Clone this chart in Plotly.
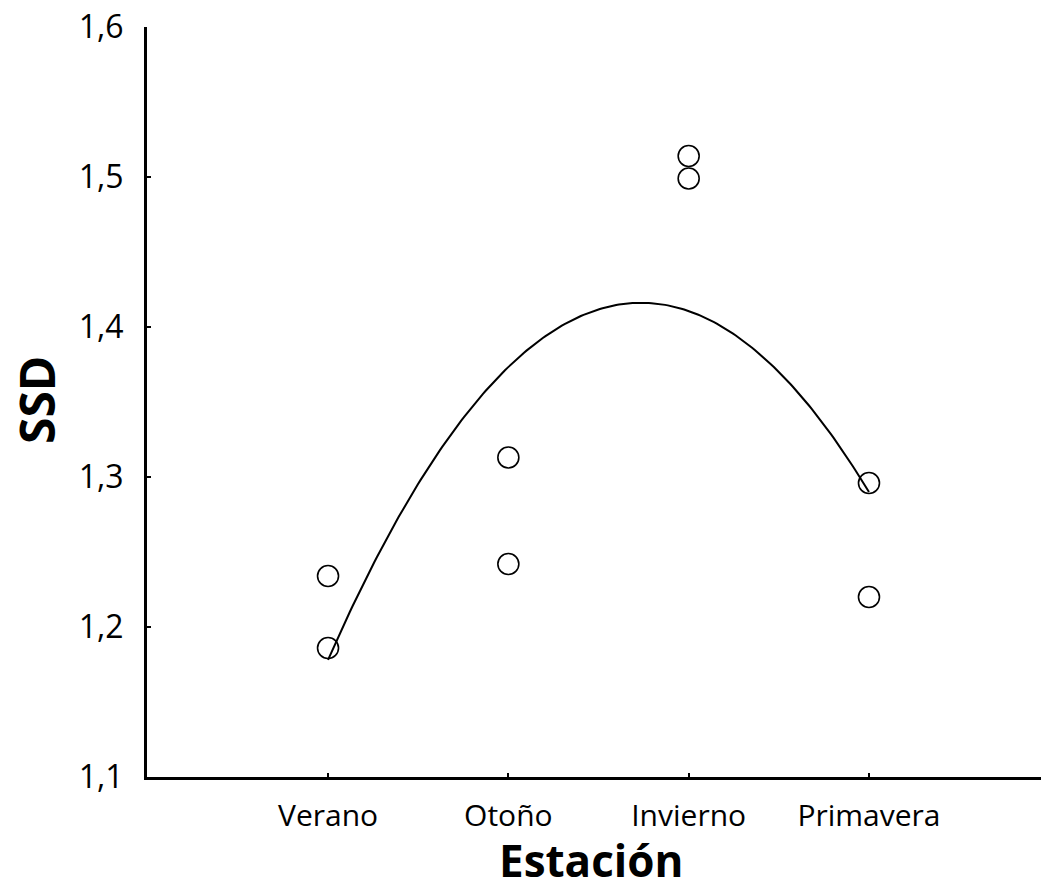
import numpy as np
import plotly.graph_objects as go

categories = ["Verano", "Otoño", "Invierno", "Primavera"]
cat_pos = [1, 2, 3, 4]
point_x = [1, 1, 2, 2, 3, 3, 4, 4]
point_y = [1.234, 1.186, 1.313, 1.242, 1.514, 1.499, 1.296, 1.220]
y_ticks = [1.1, 1.2, 1.3, 1.4, 1.5, 1.6]

# quadratic fit of the observations (the curve shown in the chart)
coef = np.polyfit(point_x, point_y, 2)
fit_x = np.linspace(min(point_x), max(point_x), 200)
fit_y = np.polyval(coef, fit_x)

fig = go.Figure()
fig.add_trace(go.Scatter(x=fit_x, y=fit_y, mode="lines",
                         line=dict(color="black", width=2), hoverinfo="skip"))
fig.add_trace(go.Scatter(x=point_x, y=point_y, mode="markers",
                         marker=dict(symbol="circle-open", size=21, color="black",
                                     line=dict(width=1.6, color="black"))))

font_family = "'Open Sans', Lato, sans-serif"
W, H = 1041, 892
l, r, t, b = 147, 0, 27, 115
pw, ph = W - l - r, H - t - b

def px_to_paper(x, y):
    return (x - l) / pw, (H - b - y) / ph

sx, sy = px_to_paper(37, 400)
ex, ey = px_to_paper(591, 860)

fig.update_layout(
    width=W, height=H,
    margin=dict(l=l, r=r, t=t, b=b),
    paper_bgcolor="white", plot_bgcolor="white",
    showlegend=False,
    separators=",.",
    font=dict(family=font_family, color="black", size=30),
    xaxis=dict(range=[-0.004, 4.954], tickvals=cat_pos, ticktext=categories,
               showgrid=False, zeroline=False, showline=True, linecolor="black",
               linewidth=3, ticks="inside", ticklen=4, tickwidth=1.5, tickcolor="black",
               tickfont=dict(size=30), ticklabelstandoff=10),
    yaxis=dict(range=[1.1, 1.6], tickvals=y_ticks, tickformat=".1f",
               showgrid=False, zeroline=False, showline=True, linecolor="black",
               linewidth=3, ticks="inside", ticklen=4, tickwidth=1.5, tickcolor="black",
               tickfont=dict(size=32), ticklabelstandoff=14),
    annotations=[
        dict(text="<b>SSD</b>", x=sx, y=sy, xref="paper", yref="paper",
             xanchor="center", yanchor="middle",
             showarrow=False, textangle=-90, font=dict(size=48)),
        dict(text="<b>Estación</b>", x=ex, y=ey, xref="paper", yref="paper",
             xanchor="center", yanchor="middle",
             showarrow=False, font=dict(size=44)),
    ],
)
fig.write_html("out.html")
